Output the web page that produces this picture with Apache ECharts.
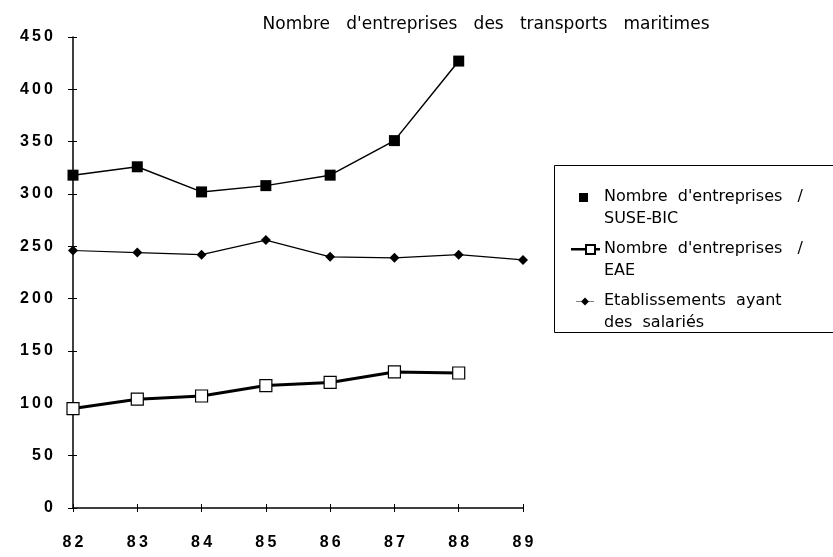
<!DOCTYPE html>
<html>
<head>
<meta charset="utf-8">
<script src="https://cdn.jsdelivr.net/npm/echarts@6/dist/echarts.min.js"></script>
<style>
  html, body { margin: 0; padding: 0; background: #fff; }
  #main { width: 833px; height: 557px; }
</style>
</head>
<body>
<div id="main"></div>
<script>
// années (axe des x)
const years = ['82', '83', '84', '85', '86', '87', '88', '89'];

// valeurs
const suseBic = [318, 326, 302, 308, 318, 351, 427];
const eae = [95, 104, 107, 117, 120, 130, 129];
const etablissements = [246, 244, 242, 256, 240, 239, 242, 237];

const yTicks = { min: 0, max: 450, interval: 50 };

const names = [
  "Nombre  d'entreprises   /\nSUSE-BIC",
  "Nombre  d'entreprises   /\nEAE",
  'Etablissements  ayant\ndes  salariés'
];

const chart = echarts.init(document.getElementById('main'), null, { renderer: 'canvas' });

// chiffres un peu espacés comme sur l'original
function spaced(v) {
  return String(v).split('').join('\u2009');
}

const axisText = {
  color: '#000',
  fontFamily: 'Liberation Sans, Arial, sans-serif',
  fontWeight: 'bold',
  fontSize: 16
};

// points "M" invisibles pour fixer la boîte du symbole (27x30) -> symbole sur la 1re ligne
const box = ' M0,0 M27,30';

const option = {
  animation: false,
  backgroundColor: '#fff',
  title: {
    text: "Nombre   d'entreprises   des   transports   maritimes",
    left: 481,
    top: 11,
    textAlign: 'center',
    textStyle: {
      color: '#000',
      fontFamily: 'DejaVu Sans, sans-serif',
      fontWeight: 'normal',
      fontSize: 17
    }
  },
  grid: {
    left: 73,
    right: 310,
    top: 37,
    bottom: 49
  },
  legend: {
    orient: 'vertical',
    left: 566,
    top: 181,
    itemGap: 8,
    itemWidth: 27,
    itemHeight: 30,
    textStyle: {
      color: '#000',
      fontFamily: 'DejaVu Sans, sans-serif',
      fontSize: 16,
      lineHeight: 22
    },
    data: [
      { name: names[0], icon: 'path://M7,0h9v9h-9z' + box },
      { name: names[1], icon: 'path://M0,4h14v0.6h-14z M23,4h4v0.6h-4z M14,0h9v9h-9z' + box },
      { name: names[2], icon: 'path://M4,4h5v0.5h-5z M17,4h5v0.5h-5z M13,0.5L17,4.5L13,8.5L9,4.5z' + box }
    ]
  },
  graphic: [{
    type: 'rect',
    left: 552,
    top: 163,
    shape: { width: 290, height: 167 },
    style: { fill: 'none', stroke: '#000', lineWidth: 1 }
  }],
  xAxis: [{
    type: 'category',
    data: years,
    boundaryGap: false,
    axisLine: { lineStyle: { color: '#000', width: 1.5 } },
    axisTick: { length: 4, lineStyle: { color: '#000' } },
    axisLabel: Object.assign({ margin: 27, formatter: spaced }, axisText),
    splitLine: { show: false }
  }, {
    type: 'category',
    data: years,
    boundaryGap: false,
    position: 'bottom',
    axisLine: { show: false },
    axisTick: { inside: true, length: 4, lineStyle: { color: '#000' } },
    axisLabel: { show: false },
    splitLine: { show: false }
  }],
  yAxis: [{
    type: 'value',
    min: yTicks.min,
    max: yTicks.max,
    interval: yTicks.interval,
    axisLine: { show: true, lineStyle: { color: '#000', width: 1.5 } },
    axisTick: { show: true, length: 5, lineStyle: { color: '#000' } },
    axisLabel: Object.assign({ margin: 20, formatter: spaced }, axisText),
    splitLine: { show: false }
  }, {
    type: 'value',
    min: yTicks.min,
    max: yTicks.max,
    interval: yTicks.interval,
    position: 'left',
    axisLine: { show: false },
    axisTick: { show: true, inside: true, length: 4, lineStyle: { color: '#000' } },
    axisLabel: { show: false },
    splitLine: { show: false }
  }],
  series: [
    {
      name: names[0],
      type: 'line',
      data: suseBic,
      symbol: 'rect',
      symbolSize: 11,
      itemStyle: { color: '#000' },
      lineStyle: { color: '#000', width: 1.5 }
    },
    {
      name: names[1],
      type: 'line',
      data: eae,
      symbol: 'rect',
      symbolSize: 12,
      itemStyle: { color: '#fff', borderColor: '#000', borderWidth: 1.2 },
      lineStyle: { color: '#000', width: 3 }
    },
    {
      name: names[2],
      type: 'line',
      data: etablissements,
      symbol: 'diamond',
      symbolSize: 10,
      itemStyle: { color: '#000' },
      lineStyle: { color: '#000', width: 1.2 }
    }
  ]
};

chart.setOption(option);
</script>
</body>
</html>
